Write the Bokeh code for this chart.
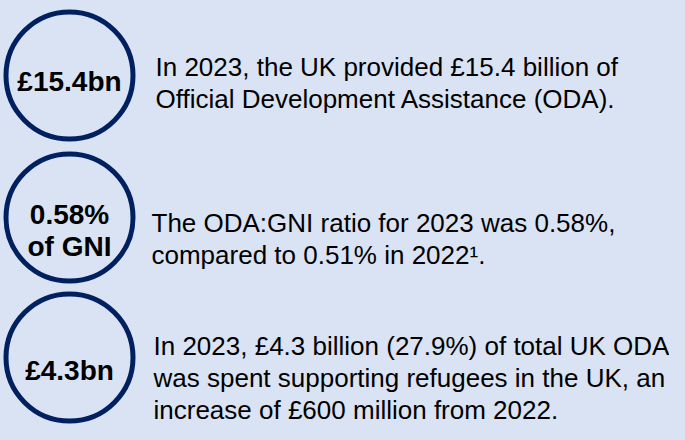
from bokeh.plotting import figure
from bokeh.models import Range1d, ColumnDataSource, GlobalInlineStyleSheet
from bokeh.core.properties import value
from bokeh.embed import file_html
from bokeh.resources import INLINE

# ---- content ----
circle_labels = [["£15.4bn"], ["0.58%", "of GNI"], ["£4.3bn"]]
descriptions = [
    ["In 2023, the UK provided £15.4 billion of",
     "Official Development Assistance (ODA)."],
    ["The ODA:GNI ratio for 2023 was 0.58%,",
     "compared to 0.51% in 2022¹."],
    ["In 2023, £4.3 billion (27.9%) of total UK ODA",
     "was spent supporting refugees in the UK, an",
     "increase of £600 million from 2022."],
]

BG = "#dae3f3"
NAVY = "#002060"
FONT = value("Liberation Sans")

W, H = 669, 424
p = figure(width=W, height=H, output_backend="svg", toolbar_location=None,
           x_range=Range1d(0, W), y_range=Range1d(H, 0),
           background_fill_color=BG, border_fill_color=BG,
           min_border=0, outline_line_color=None)
p.axis.visible = False
p.grid.visible = False
p.stylesheets = [GlobalInlineStyleSheet(css="html, body { background-color: #dae3f3; }")]

# layout (picture pixel coordinates)
cx = 69
centers = [75, 217, 357]
radius = 63.5
label_offsets = [[6], [-3.5, 28.5], [13]]
desc_x = [155, 151, 153]
desc_first = [66, 222, 345]
line_h = 32

p.circle(x=[cx] * 3, y=centers, radius=radius, fill_color=None,
         line_color=NAVY, line_width=5)

lx, ly, lt = [], [], []
for c, labs, offs in zip(centers, circle_labels, label_offsets):
    for t, o in zip(labs, offs):
        lx.append(cx); ly.append(c + o); lt.append(t)
p.text(x="x", y="y", text="t", source=ColumnDataSource(dict(x=lx, y=ly, t=lt)),
       text_font=FONT, text_font_size="28px", text_font_style="bold",
       text_align="center", text_baseline="alphabetic", text_color="black")

dx, dy, dt = [], [], []
for x0, y0, lines in zip(desc_x, desc_first, descriptions):
    for i, t in enumerate(lines):
        dx.append(x0); dy.append(y0 + i * line_h); dt.append(t)
p.text(x="x", y="y", text="t", source=ColumnDataSource(dict(x=dx, y=dy, t=dt)),
       text_font=FONT, text_font_size="26px",
       text_align="left", text_baseline="alphabetic", text_color="black")

open("out.html", "w").write(file_html(p, INLINE))
